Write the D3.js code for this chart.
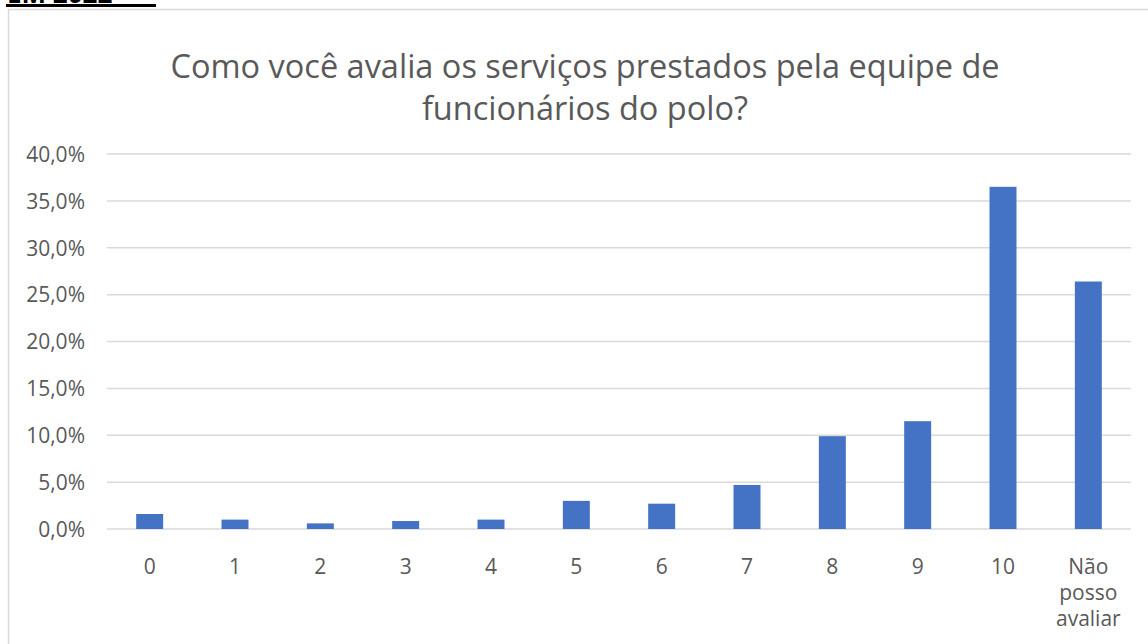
<!DOCTYPE html>
<html><head><meta charset="utf-8">
<script src="https://cdn.jsdelivr.net/npm/d3@7"></script>
<style>body{margin:0;background:#fff}svg{display:block}</style>
</head><body>
<svg id="c" width="1148" height="644"></svg>
<script>
const categories = ["0","1","2","3","4","5","6","7","8","9","10","Não posso avaliar"];
const values = [1.6, 1.0, 0.6, 0.85, 1.0, 3.0, 2.7, 4.7, 9.9, 11.5, 36.5, 26.4];
const yTicks = [0,5,10,15,20,25,30,35,40];
const titleLines = ["Como você avalia os serviços prestados pela equipe de", "funcionários do polo?"];
const headerText = "EM 2022";

const svg = d3.select("#c");
const font = "'Open Sans', 'Noto Sans', sans-serif";
const grey = "#595959";

// header fragment (cut off at the top in the reference)
svg.append("text").attr("x", 7).attr("y", 3).attr("font-family", font).attr("font-size", 26)
  .attr("font-weight", 700).attr("fill", "#000").text(headerText);
svg.append("rect").attr("x", 6).attr("y", 4).attr("width", 150).attr("height", 3).attr("fill", "#000");

// chart frame
svg.append("path").attr("d", "M8.5,644 V9.5 H1148").attr("fill", "none").attr("stroke", "#d9d9d9").attr("stroke-width", 1.5);

const x = d3.scaleBand().domain(categories).range([107, 1131]).paddingInner(0.684).paddingOuter(0.342);
const y = d3.scaleLinear().domain([0, 40]).range([529, 154]);

// gridlines
svg.append("g").selectAll("line").data(yTicks).join("line")
  .attr("x1", 107).attr("x2", 1131).attr("y1", d => y(d)).attr("y2", d => y(d))
  .attr("stroke", "#d9d9d9").attr("stroke-width", 1.5);

// y axis
const yAxis = d3.axisLeft(y).tickValues(yTicks).tickSize(0).tickPadding(0)
  .tickFormat(d => d.toFixed(1).replace(".", ",") + "%");
svg.append("g").attr("transform", "translate(85,0)").call(yAxis)
  .call(g => g.select(".domain").remove())
  .call(g => g.selectAll("text").attr("font-family", font).attr("font-size", 21).attr("fill", grey).attr("dy", "0.35em"));

// bars
svg.append("g").selectAll("rect").data(categories).join("rect")
  .attr("x", d => x(d)).attr("width", x.bandwidth())
  .attr("y", (d, i) => y(values[i])).attr("height", (d, i) => y(0) - y(values[i]))
  .attr("fill", "#4472c4");

// x axis
const xAxis = d3.axisBottom(x).tickSize(0).tickPadding(0);
const gx = svg.append("g").attr("transform", "translate(0,529)").call(xAxis);
gx.select(".domain").remove();
gx.selectAll("text").attr("font-family", font).attr("font-size", 21).attr("fill", grey).attr("dy", null)
  .each(function(d) {
    const t = d3.select(this); t.text(null);
    const words = d.split(" ");
    words.forEach((w, i) => t.append("tspan").attr("x", 0).attr("y", 45 + i * 26).text(w));
  });

// title
const title = svg.append("g");
titleLines.forEach((l, i) => {
  title.append("text").attr("x", 585).attr("y", 78 + i * 42).attr("text-anchor", "middle")
    .attr("font-family", font).attr("font-size", 32.5).attr("fill", grey).text(l);
});
</script>
</body></html>
